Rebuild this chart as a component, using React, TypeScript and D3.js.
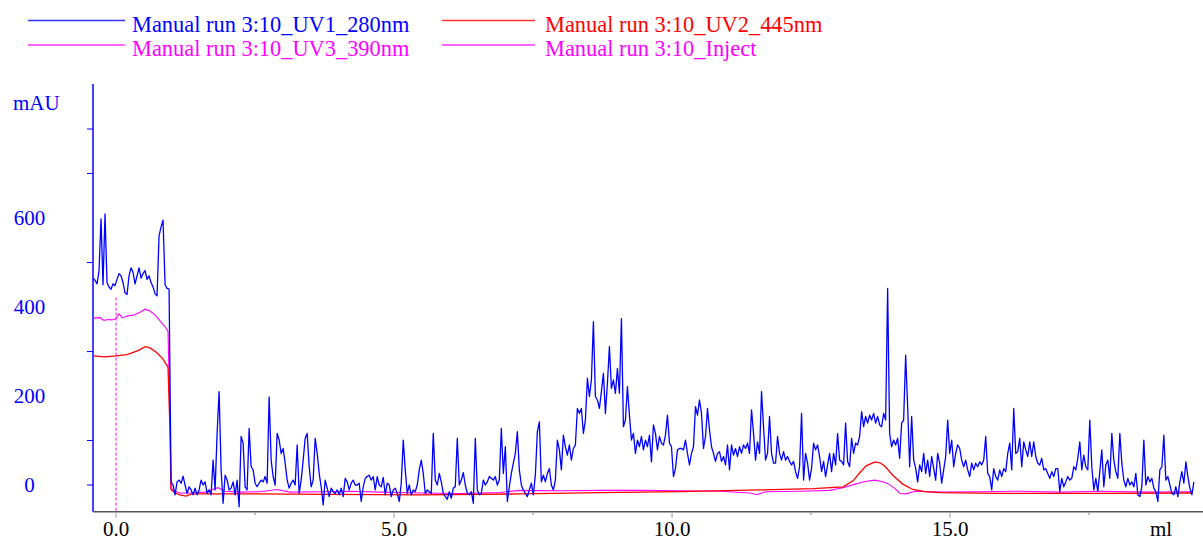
import React from 'react';
import * as d3 from 'd3';

// ---------- data ----------
const legendLabels = [
  'Manual run 3:10_UV1_280nm',
  'Manual run 3:10_UV2_445nm',
  'Manual run 3:10_UV3_390nm',
  'Manual run 3:10_Inject',
];
const legendColors = ['#0000ff', '#ff0000', '#ff00ff', '#ff00ff'];

const yLabelTicks = [0, 200, 400, 600];
const yMarkTicks = [0, 100, 300, 500, 700, 800];
const xLabelTicks = [0, 5, 10, 15];
const xMarkTicks = [0, 2.5, 5, 7.5, 10, 12.5, 15, 17.5];
const xUnit = 'ml';
const yUnit = 'mAU';

const xDomain = [-0.414, 19.55];
const yDomain = [-60, 900];

// UV1 280nm, sampled every 0.036 ml from -0.414 ml
const uv1StartMl = -0.414;
const uv1StepMl = 0.036;
const uv1Values = [
  465, 460, 452, 480, 598, 450, 609, 455, 445, 440, 452, 448, 462, 475, 470, 455, 432, 428, 470, 488,
  478, 452, 470, 488, 465, 475, 482, 462, 470, 455, 445, 430, 425, 560, 580, 595, 450, 442, 440,
  7, 0, -22, 7, 11, 4, 20, 0, -19, -4, -11, -22, -7,
  -22, -11, 11, 0, 7, -19, -11, -22, 56, -11,
  116, 210, 34, -41, 22, 11, -11, -7, 7, -22,
  11, -49, 109, 94, -4, -11, 127, 41, 34, 4,
  -4, 4, 11, 7, 19, 4, 198, 56, 19, 0,
  116, 101, 71, 82, 49, 11, -7, 4, 11, 0,
  90, -19, 11, 56, 105, 116, 41, -4, 11, 105,
  71, 26, -4, -45, 11, -7, -26, -7, -15, -19,
  -11, -22, -7, -26, 15, 7, -11, 4, 11, 0,
  0, 4, -37, -4, 15, 19, 22, 11, 19, -11,
  19, 0, -4, 17, -22, 4, 0, -26, -11, -7,
  -19, -37, 4, 101, 34, -19, 0, -22, -11, -15,
  0, 34, 56,
  26, -19, -11, -15, -19, 116, 11, 0, 26, 7,
  -19, -26, -32, -15, -30, -7, -4, 105, 0, 11,
  28, 0, -19, -22, -15, -41, 105, -11, -22, -19,
  11, 0, 7, 19, 15, 11, 19, 0, 11, 127,
  26, 86, -37, -4, 26, 49, 71, 120, 34, 0,
  -11, -19, -26, -11, 4, -22, 22, 120, 142, 7,
  22, 7, 26, 37, 0, -11, 11, 101, 79, 34,
  112, 86, 67, 90, 56, 82, 90, 172, 161, 172,
  116, 146, 240, 199, 236, 367, 199, 191, 172, 210,
  251, 161, 228, 311, 217, 236, 206, 262, 206, 374,
  131, 146, 221, 157, 101, 116, 71, 101, 86, 109,
  79, 101, 86, 112, 52, 135, 116, 79, 109, 94,
  90, 112, 157, 94, 86, 19, 37, 79, 82, 82,
  79, 101, 71, 45, 71, 86, 176, 157, 191, 161,
  82, 109, 172, 124, 86, 71, 53, 71, 75, 53,
  64, 45, 90, 34, 90, 67, 82, 64, 86, 71,
  90, 82, 94, 71, 169, 116, 56, 97, 71, 210,
  131, 56, 71, 154, 71, 49, 49, 109, 71, 56,
  75, 56, 64, 53, 45, 53, 30, 15, 41, 161,
  11, 71, 49, 11, 38, 94, 79, 90, 64, 30,
  53, 19, 45, 71, 30, 71, 45, 116, 56, 53,
  45, 139, 53, 41, 105, 71, 94, 90, 109, 165,
  131, 154, 139, 157, 146, 161, 139, 154, 135, 131,
  161, 146, 442, 116, 86, 101, 90, 105, 60, 139,
  146, 292, 176, 41, 154, 56, 38, 7, 45, 30,
  71, 26, 56, 19, 64, 38, 11, 71, 49, 4,
  34, 64, 146, 71, 101, 41, 71, 90, 82, 56,
  41, 56, 34, 19, 49, 34, 49, 41, 52, 45,
  56, 109, 26, 19, -11, 37, 19, 11, 34, 19,
  37, 30, 71, 94, 34, 172, 71, 75, 105, 41,
  97, 79, 64, 97, 64, 97, 64, 49, 45, 60,
  34, 37, 26, 15, 30, 19, 37, 37, -15, 15,
  -4, 7, 19, 11, 15, 41, 34, 60, 97, 34,
  67, 41, 34, 146, 41, -11, 15, -15, 30, 79,
  -4, 45, 56, 15, 116, 56, 30, 15, 116, 49,
  11, -4, 15, 0, 7, -4, 26, -22, -26, -4,
  101, 0, 19, 7, 15, -7, -15, -37, 34, 41,
  112, 11, 19, 0, -19, -22, -4, -26, 7, 30,
  4, 52, 19, -7, -22, 7,
];

// UV2 445nm
const uv2Ml = [
  -0.414, -0.198, 0, 0.198, 0.396, 0.522, 0.612, 0.737, 0.845, 0.935, 0.971, 0.989, 1.061, 1.151,
  1.259, 1.367, 2.41, 3.85, 5.47, 7.27, 8.71, 10.14, 11.58, 12.54, 13.08, 13.26, 13.38, 13.49,
  13.65, 13.74, 13.83, 13.97, 14.15, 14.33, 14.55, 14.82, 15.9, 17.7, 19.35,
];
const uv2Values = [
  290, 288, 290, 293, 302, 311, 308, 297, 283, 265, 120, -10, -18, -22,
  -25, -20, -20, -21, -22, -20, -17, -15, -11, -8, -4, 10, 28, 43,
  52, 50, 42, 22, 2, -10, -15, -17, -19, -19, -18,
];

// UV3 390nm
const uv3Ml = [
  -0.414, -0.288, -0.216, -0.144, -0.072, 0, 0.054, 0.108, 0.216, 0.324, 0.432, 0.522, 0.594,
  0.665, 0.737, 0.809, 0.881, 0.935, 0.971, 0.989, 1.061, 1.151, 1.331, 1.601, 1.835, 1.96,
  2.23, 2.59, 2.896, 3.129, 3.669, 4.209, 4.748, 5.468, 6.187, 6.906, 7.266, 7.986, 8.705,
  9.424, 10.144, 10.863, 11.403, 11.529, 11.673, 12.302, 12.842, 13.112, 13.291, 13.471, 13.651,
  13.777, 13.885, 14.011, 14.101, 14.209, 14.371, 14.82, 15.54, 16.259, 16.978, 17.698, 18.597,
  19.353,
];
const uv3Values = [
  375, 376, 370, 372, 371, 374, 385, 376, 380, 382, 388, 395, 392,
  386, 377, 366, 356, 345, 150, -8, -14, -18, -18, -16, -6, -14,
  -16, -15, -10, -16, -15, -14, -16, -18, -19, -17, -12, -13, -12,
  -12, -13, -14, -18, -22, -15, -14, -12, -5, 2, 8, 11,
  8, 3, -8, -19, -20, -14, -16, -15, -14, -16, -14, -16,
  -15,
];

// Injection mark
const injectMl = 0;
const injectTop = 421;

// ---------- chart ----------
const W = 1203;
const H = 540;
const FONT = '"Liberation Serif", "Times New Roman", serif';

export default function App() {
  const x = d3.scaleLinear().domain(xDomain).range([93, 1203]);
  const y = d3.scaleLinear().domain(yDomain).range([511.7, 84.5]);

  const uv1 = uv1Values.map((v, i) => [uv1StartMl + i * uv1StepMl, v] as [number, number]);
  const uv2 = uv2Ml.map((m, i) => [m, uv2Values[i]] as [number, number]);
  const uv3 = uv3Ml.map((m, i) => [m, uv3Values[i]] as [number, number]);

  const line = d3
    .line<[number, number]>()
    .x((d) => x(d[0]))
    .y((d) => y(d[1]));

  const axisY = y(yDomain[0]);
  const axisX = x(xDomain[0]);

  const legendPos = [
    { lx: 28, tx: 132, ly: 20.5, ty: 32 },
    { lx: 442, tx: 545, ly: 20.5, ty: 32 },
    { lx: 28, tx: 132, ly: 45, ty: 56 },
    { lx: 442, tx: 545, ly: 45, ty: 56 },
  ];
  const legendLineLen = [97, 93, 97, 93];

  return (
    <div style={{ position: 'fixed', left: 0, top: 0, width: W, height: H, background: '#fff' }}>
      <svg width={W} height={H} style={{ display: 'block', fontFamily: FONT }}>
        <rect width={W} height={H} fill="#fff" />
        {/* legend */}
        {legendLabels.map((lab, i) => (
          <g key={lab}>
            <line
              x1={legendPos[i].lx}
              x2={legendPos[i].lx + legendLineLen[i]}
              y1={legendPos[i].ly}
              y2={legendPos[i].ly}
              stroke={legendColors[i]}
              strokeWidth={1.5}
              opacity={0.8}
            />
            <text x={legendPos[i].tx} y={legendPos[i].ty} fill={legendColors[i]} fontSize={22.4}>
              {lab}
            </text>
          </g>
        ))}

        {/* y unit */}
        <text x={13} y={110} fill="#0000ff" fontSize={21}>
          {yUnit}
        </text>

        {/* y axis */}
        <line x1={axisX} x2={axisX} y1={84} y2={axisY} stroke="#0000ff" strokeWidth={1.5} />
        {yMarkTicks.map((t) => (
          <line key={'yt' + t} x1={axisX - 6} x2={axisX} y1={y(t)} y2={y(t)} stroke="#0000ff" strokeWidth={1} />
        ))}
        {yLabelTicks.map((t) => (
          <text
            key={'yl' + t}
            x={29.5}
            y={y(t)}
            fill="#0000ff"
            fontSize={21}
            textAnchor="middle"
            dominantBaseline="central"
          >
            {t}
          </text>
        ))}

        {/* inject mark */}
        <line
          x1={x(injectMl)}
          x2={x(injectMl)}
          y1={y(injectTop)}
          y2={axisY}
          stroke="#ff00ff"
          strokeWidth={1}
          strokeDasharray="3,2"
        />

        {/* curves */}
        <path d={line(uv3) || ''} fill="none" stroke="#ff00ff" strokeWidth={1.1} />
        <path d={line(uv2) || ''} fill="none" stroke="#ff0000" strokeWidth={1.3} />
        <path d={line(uv1) || ''} fill="none" stroke="#0000ff" strokeWidth={1.3} strokeLinejoin="round" />

        {/* x axis */}
        <line x1={axisX} x2={W} y1={axisY} y2={axisY} stroke="#555" strokeWidth={1.6} />
        {xMarkTicks.map((t) => {
          const major = xLabelTicks.includes(t);
          return (
            <line
              key={'xt' + t}
              x1={x(t)}
              x2={x(t)}
              y1={axisY + 1}
              y2={axisY + (major ? 6 : 3)}
              stroke={major ? '#aaa' : '#888'}
              strokeWidth={1.2}
            />
          );
        })}
        {xLabelTicks.map((t) => (
          <text key={'xl' + t} x={x(t)} y={536} fill="#000" fontSize={21} textAnchor="middle">
            {t.toFixed(1)}
          </text>
        ))}
        <text x={1161} y={536} fill="#000" fontSize={21} textAnchor="middle">
          {xUnit}
        </text>
      </svg>
    </div>
  );
}
